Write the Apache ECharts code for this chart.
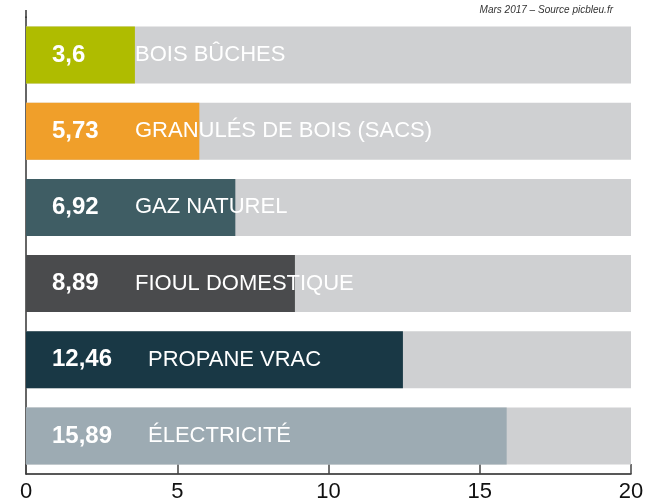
<!DOCTYPE html>
<html>
<head>
<meta charset="utf-8">
<script src="https://cdn.jsdelivr.net/npm/echarts@6/dist/echarts.min.js"></script>
<style>
  html, body { margin: 0; padding: 0; background: #fff; }
  #chart { width: 647px; height: 503px; }
</style>
</head>
<body>
<div id="chart"></div>
<script>
// prix en c€ / kWh
const categories = ['BOIS BÛCHES', 'GRANULÉS DE BOIS (SACS)', 'GAZ NATUREL', 'FIOUL DOMESTIQUE', 'PROPANE VRAC', 'ÉLECTRICITÉ']
const values = [3.6, 5.73, 6.92, 8.89, 12.46, 15.89]
const barColors = ['#afbc00', '#f09f2a', '#3f5d64', '#4a4b4d', '#193845', '#9dabb3']
const xTicks = [0, 5, 10, 15, 20]

const chart = echarts.init(document.getElementById('chart'))

const fmt = (v) => String(v).replace('.', ',')
const font = '"Liberation Sans", Arial, sans-serif'

chart.setOption({
  animation: false,
  grid: { left: 26, right: 16, top: 17, bottom: 26, containLabel: false },
  graphic: [
    {
      type: 'text',
      right: 34,
      top: 5,
      style: {
        text: 'Mars 2017 – Source picbleu.fr',
        font: 'italic 10px "Liberation Sans", Arial, sans-serif',
        fill: '#333',
      },
    },
    // le trait de l'axe vertical dépasse un peu en haut
    {
      type: 'line',
      shape: { x1: 26, y1: 10, x2: 26, y2: 18 },
      style: { stroke: '#333', lineWidth: 1.5 },
    },
  ],
  xAxis: {
    type: 'value',
    min: xTicks[0],
    max: xTicks[xTicks.length - 1],
    interval: 5,
    splitLine: { show: false },
    axisLine: { show: true, lineStyle: { color: '#222', width: 1.5 } },
    axisTick: { show: true, inside: true, length: 10, lineStyle: { color: '#444', width: 1.5 } },
    axisLabel: { color: '#111', fontSize: 22, fontFamily: font, margin: 7 },
  },
  yAxis: {
    type: 'category',
    data: categories,
    inverse: true,
    axisLine: { show: true, lineStyle: { color: '#333', width: 1.5 } },
    axisTick: { show: false },
    axisLabel: { show: false },
  },
  series: [
    {
      type: 'bar',
      barWidth: 57,
      data: values.map((v, i) => ({ value: v, itemStyle: { color: barColors[i] } })),
      showBackground: true,
      backgroundStyle: { color: '#cfd0d2' },
      label: {
        show: true,
        position: 'insideLeft',
        distance: 26,
        formatter: (p) => {
          const s = fmt(p.value)
          const key = s.length > 4 ? 'vw' : 'v'
          return '{' + key + '|' + s + '}{n|' + p.name + '}'
        },
        rich: {
          v: { color: '#fff', fontWeight: 'bold', fontSize: 24, width: 83, fontFamily: font },
          vw: { color: '#fff', fontWeight: 'bold', fontSize: 24, width: 96, fontFamily: font },
          n: { color: '#fff', fontSize: 22, fontFamily: font },
        },
      },
    },
  ],
})
</script>
</body>
</html>
